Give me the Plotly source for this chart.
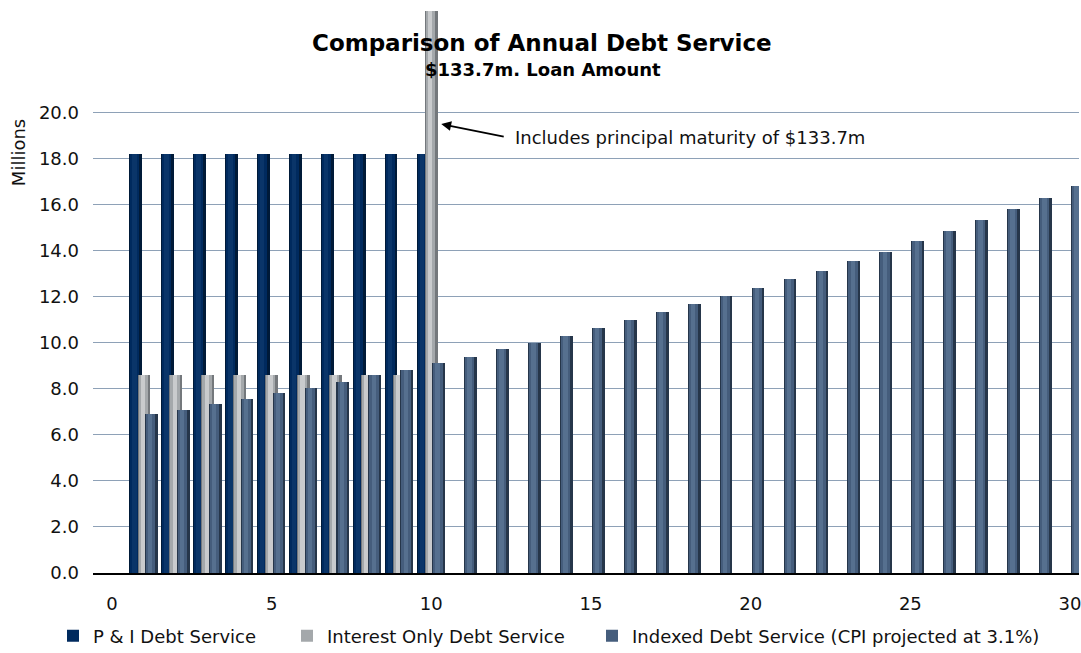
import plotly.graph_objects as go

# ---------------- data ----------------
years = list(range(1, 31))
pi_years = list(range(1, 11))
pi_values = [18.2, 18.2, 18.2, 18.2, 18.2, 18.2, 18.2, 18.2, 18.2, 18.2]
io_years = list(range(1, 11))
io_values = [8.6, 8.6, 8.6, 8.6, 8.6, 8.6, 8.6, 8.6, 8.6, 142.3]
indexed_values = [6.9, 7.1, 7.32, 7.55, 7.8, 8.04, 8.3, 8.6, 8.8, 9.1,
                  9.37, 9.72, 9.98, 10.28, 10.63, 10.98, 11.33, 11.67, 12.02, 12.37,
                  12.76, 13.1, 13.54, 13.93, 14.41, 14.85, 15.33, 15.8, 16.28, 16.8]
y_ticks = [0, 2, 4, 6, 8, 10, 12, 14, 16, 18, 20]
x_ticks = [0, 5, 10, 15, 20, 25, 30]

names = ["P & I Debt Service", "Interest Only Debt Service",
         "Indexed Debt Service (CPI projected at 3.1%)"]
title = "Comparison of Annual Debt Service"
subtitle = "$133.7m. Loan Amount"
note = "Includes principal maturity of $133.7m"

FONT = "DejaVu Sans"
W, H = 1081, 653
fig = go.Figure()

BAR_W = 0.40


def add_series(name, xs, ys, center, shades, legend):
    # cylinder-like shading: full bar in edge colour, narrower lighter bars on top
    layers = [(1.0, 0.0, shades[0]), (0.72, -0.06, shades[1]), (0.34, -0.08, shades[2])]
    for i, (frac, shift, col) in enumerate(layers):
        w = BAR_W * frac
        off = center + shift * BAR_W - w / 2 if i else center - w / 2
        fig.add_trace(go.Bar(
            x=xs, y=ys, width=w, offset=off,
            marker=dict(color=col, line=dict(width=0)),
            name=name, showlegend=(i == 1), legend=legend,
            legendgroup=name, hoverinfo="skip" if i else None,
        ))


add_series(names[0], pi_years, pi_values, -0.26, ["#001a38", "#002a5e", "#0a3569"], "legend")
add_series(names[1], io_years, io_values, 0.0, ["#74787c", "#a4a8ab", "#c9cbcd"], "legend2")
add_series(names[2], years, indexed_values, 0.23, ["#26364a", "#455d7c", "#56708f"], "legend3")

legend_common = dict(orientation="h", xref="container", yref="container",
                     xanchor="left", yanchor="middle", y=1 - 636 / H,
                     font=dict(family=FONT, size=18, color="#111"),
                     bgcolor="rgba(0,0,0,0)", itemwidth=30)

fig.update_layout(
    width=W, height=H,
    margin=dict(l=93, r=0, t=11, b=80),
    paper_bgcolor="white", plot_bgcolor="white",
    barmode="overlay", bargap=0,
    font=dict(family=FONT, size=18, color="#111"),
    legend=dict(x=(95 - 42) / W, **legend_common),
    legend2=dict(x=(329 - 42) / W, **legend_common),
    legend3=dict(x=(634 - 42) / W, **legend_common),
    xaxis=dict(range=[-0.594, 30.281], tickvals=x_ticks, ticktext=[str(v) for v in x_ticks],
               showgrid=False, zeroline=False, showline=True, linecolor="black", linewidth=1.5,
               ticks="", ticklabelstandoff=14, ticklabeloverflow="allow",
               tickfont=dict(family=FONT, size=18, color="#111")),
    yaxis=dict(range=[0, 24.41], tickvals=y_ticks, tickformat=".1f",
               showgrid=True, gridcolor="#8ea1b7", gridwidth=1.4,
               zeroline=False, showline=False, ticks="", ticklabelstandoff=13,
               tickfont=dict(family=FONT, size=18, color="#111")),
)

# title and subtitle
fig.add_annotation(text="<b>" + title + "</b>", xref="paper", yref="paper",
                   x=(543 - 93) / 988, y=(573 - 43) / 562, showarrow=False,
                   font=dict(family=FONT, size=23, color="black"), xanchor="center", yanchor="middle")
fig.add_annotation(text="<b>" + subtitle + "</b>", xref="paper", yref="paper",
                   x=(544 - 93) / 988, y=(573 - 69) / 562, showarrow=False,
                   font=dict(family=FONT, size=18, color="black"), xanchor="center", yanchor="middle")

# axis title
fig.add_annotation(text="Millions", xref="paper", yref="paper", x=(19 - 93) / 988,
                   y=(573 - 153) / 562, textangle=-90, showarrow=False,
                   font=dict(family=FONT, size=18, color="#111"), xanchor="center", yanchor="middle")

# callout arrow and text
fig.add_annotation(x=10.31, y=19.5, xref="x", yref="y", text="", showarrow=True,
                   ax=64, ay=13, axref="pixel", ayref="pixel",
                   arrowhead=2, arrowsize=1.1, arrowwidth=1.8, arrowcolor="black")
fig.add_annotation(x=12.56, y=18.9, xref="x", yref="y", text=note, showarrow=False,
                   xanchor="left", yanchor="middle",
                   font=dict(family=FONT, size=18, color="#111"))

# remove the default 8px page margin so the figure fills the window exactly
fig.write_html("out.html", config={"displayModeBar": False},
               post_script="document.body.style.margin='0';document.body.style.overflow='hidden';")
